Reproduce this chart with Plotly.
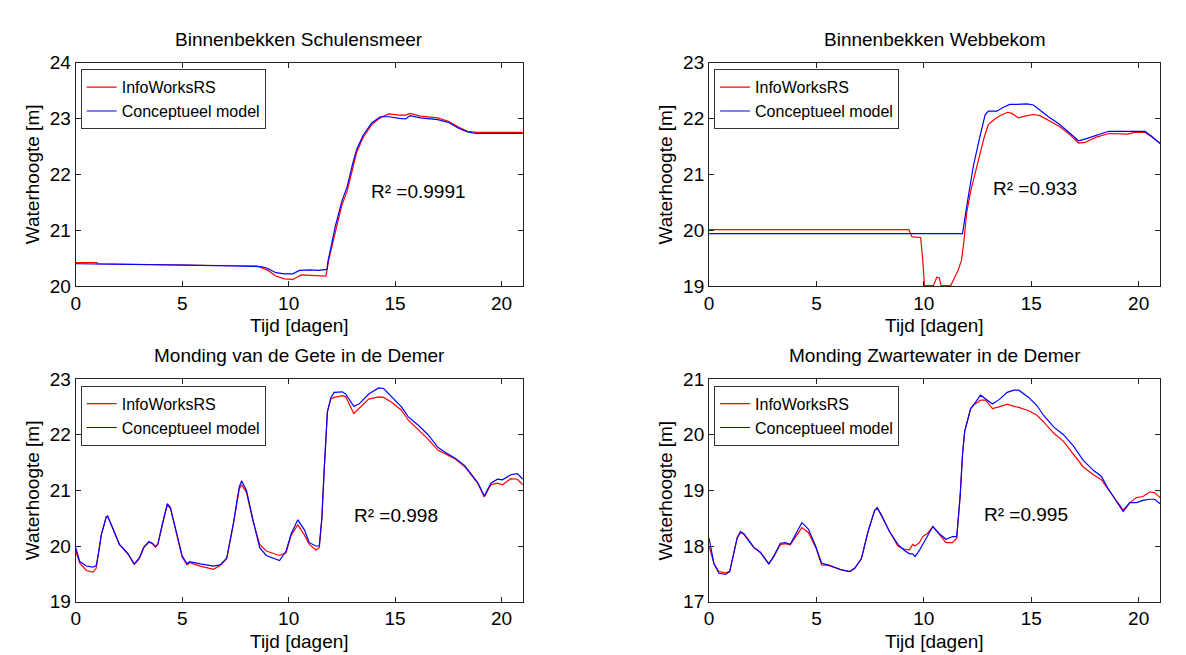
import plotly.graph_objects as go

# ---------------- data ----------------
titles = ["Binnenbekken Schulensmeer", "Binnenbekken Webbekom",
          "Monding van de Gete in de Demer", "Monding Zwartewater in de Demer"]
series_names = ["InfoWorksRS", "Conceptueel model"]
r2_labels = ["R² =0.9991", "R² =0.933", "R² =0.998", "R² =0.995"]
x_label = "Tijd [dagen]"
y_label = "Waterhoogte [m]"
x_ticks = [0, 5, 10, 15, 20]
y_ranges = [[20, 24], [19, 23], [19, 23], [17, 21]]

# Panel 1: Binnenbekken Schulensmeer
p1_red_t = [0, 1.0, 1.01, 3.0, 5.2, 7.3, 8.5, 9.0, 9.4, 9.8, 10.2, 10.6, 11.0, 11.4, 11.75, 11.9,
            12.2, 12.5, 12.75, 13.0, 13.2, 13.5, 13.9, 14.3, 14.7, 15.2, 15.5, 15.7, 16.2, 17.0,
            17.5, 18.0, 18.4, 18.8, 21.0]
p1_red_h = [20.42, 20.42, 20.40, 20.39, 20.375, 20.36, 20.36, 20.29, 20.18, 20.13, 20.12, 20.20,
            20.19, 20.18, 20.18, 20.50, 21.00, 21.45, 21.70, 22.10, 22.40, 22.66, 22.89, 23.01,
            23.08, 23.06, 23.06, 23.09, 23.04, 23.01, 22.95, 22.84, 22.77, 22.75, 22.75]
p1_blue_t = [0, 3.0, 5.2, 7.3, 8.7, 9.0, 9.4, 9.8, 10.2, 10.5, 11.0, 11.4, 11.8, 11.85, 12.2, 12.5,
             12.75, 13.0, 13.2, 13.5, 13.9, 14.3, 14.7, 15.2, 15.5, 15.7, 16.2, 17.0, 17.5, 18.0,
             18.4, 18.8, 21.0]
p1_blue_h = [20.40, 20.39, 20.375, 20.36, 20.35, 20.32, 20.24, 20.22, 20.22, 20.28, 20.29, 20.28,
             20.30, 20.45, 21.08, 21.52, 21.78, 22.18, 22.45, 22.70, 22.92, 23.03, 23.03, 23.00,
             22.99, 23.05, 23.01, 22.98, 22.93, 22.82, 22.76, 22.73, 22.73]

# Panel 2: Binnenbekken Webbekom
p2_red_t = [0, 9.3, 9.45, 9.85, 9.95, 10.03, 10.45, 10.6, 10.72, 10.8, 11.25, 11.4, 11.6, 11.75,
            11.85, 12.0, 12.2, 12.5, 12.8, 13.0, 13.3, 13.6, 13.9, 14.1, 14.4, 14.7, 15.1, 15.4,
            15.8, 16.3, 16.8, 17.2, 17.5, 18.0, 18.6, 19.5, 19.8, 20.3, 20.6, 21.0]
p2_red_h = [20.01, 20.01, 19.88, 19.87, 19.46, 19.01, 19.01, 19.16, 19.15, 19.01, 19.01, 19.12,
            19.29, 19.46, 19.75, 20.33, 20.73, 21.19, 21.65, 21.89, 21.99, 22.06, 22.11, 22.09,
            22.01, 22.04, 22.07, 22.05, 21.97, 21.86, 21.71, 21.56, 21.57, 21.66, 21.73, 21.72,
            21.75, 21.75, 21.67, 21.55]
p2_blue_t = [0, 11.8, 12.0, 12.3, 12.6, 12.85, 13.0, 13.4, 13.7, 14.0, 14.3, 14.8, 15.1, 15.4,
             15.8, 16.3, 16.8, 17.2, 17.5, 18.0, 18.6, 19.5, 20.3, 20.6, 21.0]
p2_blue_h = [19.94, 19.94, 20.44, 21.14, 21.66, 22.06, 22.13, 22.13, 22.20, 22.25, 22.25, 22.26,
             22.24, 22.15, 22.03, 21.90, 21.74, 21.60, 21.63, 21.70, 21.77, 21.77, 21.77, 21.68,
             21.55]

# Panel 3: Monding van de Gete in de Demer
p3_t = [0, 0.19, 0.5, 0.81, 0.96, 1.04, 1.2, 1.43, 1.5, 1.74, 2.05, 2.44, 2.75, 2.98, 3.2, 3.44,
        3.6, 3.75, 3.86, 4.07, 4.3, 4.45, 4.76, 5.0, 5.23, 5.35, 5.85, 6.47, 6.78, 7.09, 7.4,
        7.68, 7.79, 8.02, 8.33, 8.64, 8.95, 9.57, 9.88, 10.12, 10.43, 10.74, 10.97, 11.28, 11.44,
        11.56, 11.67, 11.82, 11.98, 12.13, 12.52, 12.68, 13.06, 13.3, 13.76, 14.23, 14.46, 14.85,
        15.3, 15.62, 16.09, 16.55, 17.02, 17.33, 17.8, 18.26, 18.65, 18.88, 19.19, 19.5, 19.81,
        20.04, 20.43, 20.74, 21.0]
p3_red = [19.91, 19.69, 19.56, 19.53, 19.60, 19.80, 20.20, 20.52, 20.53, 20.32, 20.03, 19.86,
          19.67, 19.77, 19.97, 20.07, 20.04, 19.98, 20.03, 20.38, 20.74, 20.67, 20.15, 19.80,
          19.66, 19.70, 19.64, 19.58, 19.65, 19.77, 20.38, 21.02, 21.10, 20.96, 20.44, 20.03,
          19.91, 19.83, 19.88, 20.20, 20.38, 20.20, 20.03, 19.93, 19.97, 20.50, 21.37, 22.41,
          22.64, 22.67, 22.70, 22.68, 22.38, 22.47, 22.64, 22.68, 22.67, 22.58, 22.44, 22.26,
          22.09, 21.92, 21.72, 21.66, 21.57, 21.43, 21.25, 21.13, 20.88, 21.10, 21.13, 21.10,
          21.21, 21.20, 21.10]
p3_blue = [19.97, 19.72, 19.64, 19.62, 19.65, 19.80, 20.20, 20.52, 20.54, 20.33, 20.03, 19.87,
           19.68, 19.78, 19.98, 20.08, 20.05, 19.99, 20.04, 20.40, 20.76, 20.69, 20.17, 19.82,
           19.68, 19.72, 19.68, 19.64, 19.66, 19.78, 20.40, 21.06, 21.17, 21.00, 20.46, 19.97,
           19.83, 19.74, 19.91, 20.22, 20.47, 20.29, 20.06, 20.00, 20.00, 20.50, 21.37, 22.41,
           22.66, 22.76, 22.77, 22.73, 22.51, 22.55, 22.73, 22.84, 22.83, 22.67, 22.50, 22.32,
           22.17, 22.00, 21.77, 21.69, 21.58, 21.45, 21.26, 21.14, 20.90, 21.13, 21.20, 21.19,
           21.28, 21.30, 21.20]

# Panel 4: Monding Zwartewater in de Demer
p4_t = [0, 0.23, 0.46, 0.77, 0.96, 1.08, 1.31, 1.46, 1.62, 2.08, 2.39, 2.78, 3.0, 3.32, 3.55,
        3.78, 4.0, 4.32, 4.63, 4.97, 5.24, 5.55, 6.17, 6.55, 6.78, 7.09, 7.4, 7.71, 7.83, 8.02,
        8.4, 8.79, 9.1, 9.33, 9.48, 9.59, 9.79, 9.95, 10.18, 10.42, 10.72, 11.03, 11.33, 11.53,
        11.69, 11.8, 11.9, 12.18, 12.34, 12.64, 12.88, 13.19, 13.5, 13.88, 14.19, 14.42, 14.88,
        15.27, 15.57, 16.04, 16.5, 16.96, 17.42, 17.89, 18.27, 18.58, 18.97, 19.28, 19.59, 19.9,
        20.2, 20.51, 20.74, 21.0]
p4_red = [18.00, 17.68, 17.54, 17.52, 17.54, 17.74, 18.14, 18.24, 18.21, 17.97, 17.88, 17.68,
          17.80, 18.03, 18.04, 18.02, 18.15, 18.33, 18.24, 17.97, 17.66, 17.65, 17.57, 17.54,
          17.60, 17.77, 18.26, 18.64, 18.68, 18.55, 18.26, 18.00, 17.94, 17.93, 18.03, 18.00,
          18.06, 18.17, 18.23, 18.35, 18.21, 18.06, 18.06, 18.14, 18.90, 19.65, 20.06, 20.47,
          20.54, 20.62, 20.62, 20.47, 20.50, 20.55, 20.51, 20.49, 20.43, 20.35, 20.23, 20.03,
          19.88, 19.65, 19.42, 19.28, 19.19, 19.02, 18.82, 18.65, 18.78, 18.87, 18.89, 18.97,
          18.96, 18.87]
p4_blue = [18.14, 17.68, 17.51, 17.49, 17.54, 17.74, 18.15, 18.26, 18.22, 17.98, 17.89, 17.68,
           17.81, 18.05, 18.06, 18.03, 18.20, 18.42, 18.30, 17.99, 17.69, 17.66, 17.57, 17.54,
           17.60, 17.77, 18.26, 18.64, 18.69, 18.56, 18.26, 18.03, 17.92, 17.86, 17.86, 17.81,
           17.92, 18.03, 18.17, 18.35, 18.22, 18.12, 18.17, 18.17, 18.90, 19.65, 20.06, 20.47,
           20.55, 20.71, 20.64, 20.55, 20.63, 20.76, 20.80, 20.80, 20.67, 20.52, 20.35, 20.14,
           20.00, 19.80, 19.54, 19.36, 19.25, 19.03, 18.80, 18.62, 18.78, 18.78, 18.82, 18.84,
           18.84, 18.76]

# R² label anchor positions (data coords)
r2_x = [13.76, 13.11, 12.99, 12.72]
r2_y = [21.69, 20.75, 20.55, 18.56]

# ---------------- layout ----------------
W, H = 1186, 655
FONT = "Liberation Sans, Arial, sans-serif"
RED, BLUE = "#ff0000", "#0000ff"
TXT = 19

# plot-area pixel boxes (left, right, top, bottom)
boxes = [(63, 512, 46, 277), (699, 1152, 46, 277), (63, 512, 373, 603), (699, 1152, 373, 603)]

panels = [
    ((p1_red_t, p1_red_h), (p1_blue_t, p1_blue_h)),
    ((p2_red_t, p2_red_h), (p2_blue_t, p2_blue_h)),
    ((p3_t, p3_red), (p3_t, p3_blue)),
    ((p4_t, p4_red), (p4_t, p4_blue)),
]

fig = go.Figure()
annotations = []
layout = {}
for i, ((rt, rh), (bt, bh)) in enumerate(panels):
    n = "" if i == 0 else str(i + 1)
    xa, ya = "x" + n, "y" + n
    lg = "legend" + n
    fig.add_trace(go.Scatter(x=rt, y=rh, mode="lines", name=series_names[0],
                             line=dict(color=RED, width=1.2), xaxis=xa, yaxis=ya, legend=lg))
    fig.add_trace(go.Scatter(x=bt, y=bh, mode="lines", name=series_names[1],
                             line=dict(color=BLUE, width=1.2), xaxis=xa, yaxis=ya, legend=lg))
    l, r, t, b = boxes[i]
    axis_common = dict(showline=True, linecolor="#222222", linewidth=1, mirror="allticks",
                       ticks="inside", ticklen=5, tickcolor="#222222", showgrid=False,
                       zeroline=False, tickfont=dict(family=FONT, size=TXT, color="black"))
    layout["xaxis" + n] = dict(domain=[l / W, r / W], anchor=ya, range=[0, 21],
                               tickvals=x_ticks, **axis_common)
    layout["yaxis" + n] = dict(domain=[1 - b / H, 1 - t / H], anchor=xa, range=y_ranges[i],
                               dtick=1, **axis_common)
    layout[lg] = dict(x=(l + 5) / W, y=1 - (t + 7) / H, xanchor="left", yanchor="top",
                      bgcolor="white", bordercolor="#333333", borderwidth=1,
                      font=dict(family=FONT, size=16, color="black"),
                      tracegroupgap=0, itemwidth=30)
    # title
    annotations.append(dict(text=titles[i], x=(l + r) / 2 / W, y=1 - (t - 24) / H,
                            xref="paper", yref="paper", xanchor="center", yanchor="middle",
                            showarrow=False, font=dict(family=FONT, size=TXT, color="black")))
    # x label
    annotations.append(dict(text=x_label, x=(l + r) / 2 / W, y=1 - (b + 41) / H,
                            xref="paper", yref="paper", xanchor="center", yanchor="middle",
                            showarrow=False, font=dict(family=FONT, size=TXT, color="black")))
    # y label
    annotations.append(dict(text=y_label, x=(l - 44) / W, y=1 - (t + b) / 2 / H,
                            xref="paper", yref="paper", xanchor="center", yanchor="middle",
                            showarrow=False, textangle=-90,
                            font=dict(family=FONT, size=TXT, color="black")))
    # R²
    annotations.append(dict(text=r2_labels[i], x=r2_x[i], y=r2_y[i], xref=xa, yref=ya,
                            xanchor="left", yanchor="middle", showarrow=False,
                            font=dict(family=FONT, size=TXT, color="black")))

fig.update_layout(width=W, height=H, margin=dict(l=0, r=0, t=0, b=0),
                  paper_bgcolor="white", plot_bgcolor="white", showlegend=True,
                  annotations=annotations, **layout)

fig.write_html("out.html")
